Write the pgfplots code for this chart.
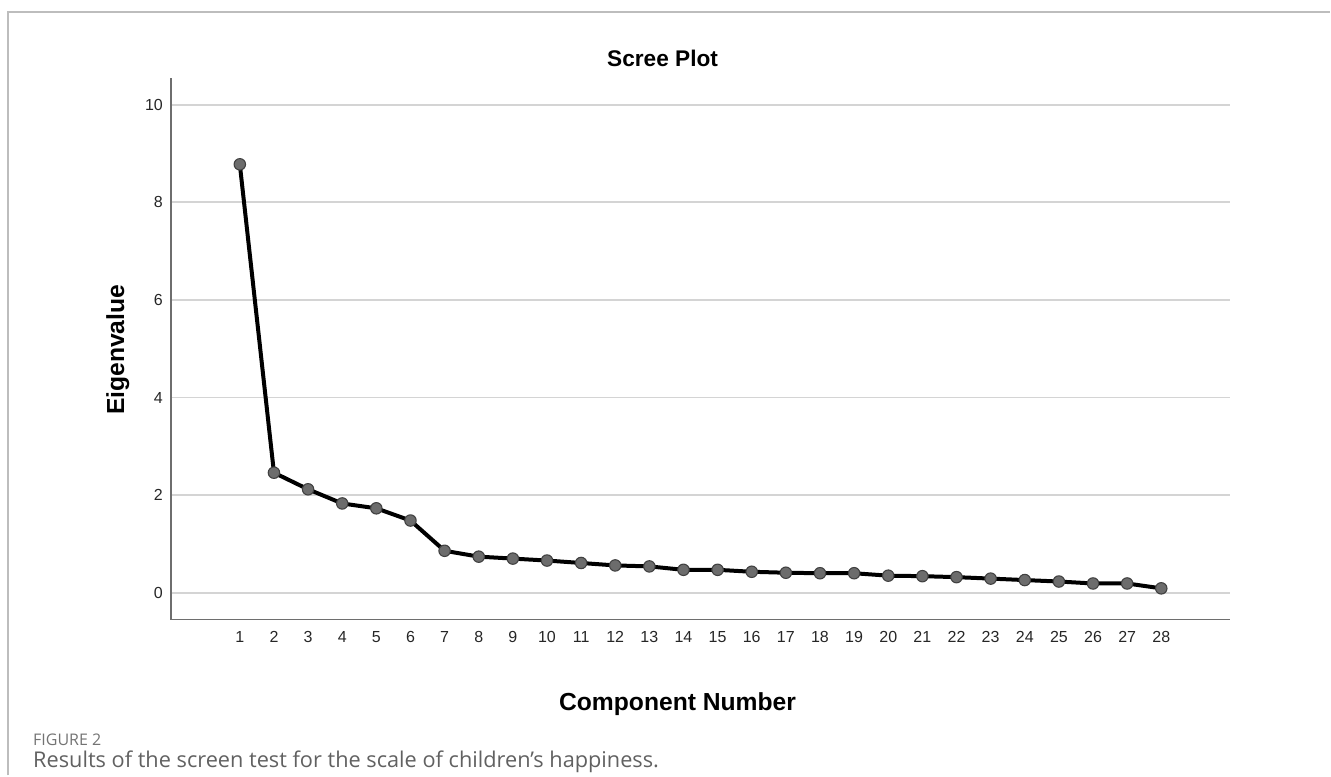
\documentclass[border=0pt]{standalone}
\usepackage{pgfplots}
\pgfplotsset{compat=1.18}
\usepackage{fontspec}
\setmainfont{Liberation Sans}
\newfontfamily\capfont{Open Sans}
\definecolor{gridc}{HTML}{D4D4D4}
\definecolor{axc}{HTML}{6E6E6E}
\definecolor{markc}{HTML}{6C6C6C}
\definecolor{framec}{HTML}{BDBDBD}
\begin{document}
\begin{tikzpicture}[x=0.75pt,y=0.75pt]
\path (0,0) rectangle (1331,776);
\draw[framec, line width=1.3pt] (8,0) -- (8,764) -- (1331,764);
\begin{axis}[
  at={(128.25pt,117pt)}, anchor=south west,
  scale only axis, width=795pt, height=406.5pt,
  xmin=-1.02, xmax=30.02, ymin=-0.55, ymax=10.55,
  axis x line*=bottom, axis y line*=left,
  axis line style={axc, line width=1.3pt, -},
  xtick={1,...,28}, ytick={0,2,4,6,8,10},
  major tick length=0pt,
  ymajorgrids, grid style={gridc, line width=1.4pt},
  /pgf/number format/assume math mode=true,
  tick label style={font=\fontsize{12}{14}\selectfont, text=black!85},
  yticklabel style={xshift=-2.5pt},
  xticklabel style={yshift=-5pt, text height=9pt, text depth=0pt},
  clip=false,
]
\addplot[black, line width=3pt, mark=*, mark size=4.3pt,
  mark options={fill=markc, draw=black!75, line width=0.8pt}]
  table {
x y
1 8.78
2 2.46
3 2.12
4 1.83
5 1.73
6 1.48
7 0.86
8 0.74
9 0.70
10 0.66
11 0.61
12 0.56
13 0.54
14 0.47
15 0.47
16 0.43
17 0.41
18 0.40
19 0.40
20 0.35
21 0.34
22 0.32
23 0.29
24 0.26
25 0.23
26 0.19
27 0.19
28 0.09
};
\end{axis}
\node[font=\fontsize{17}{20}\bfseries\selectfont] at (663,718) {Scree Plot};
\node[font=\fontsize{18.5}{22}\bfseries\selectfont, rotate=90] at (118,426) {Eigenvalue};
\node[font=\fontsize{18.5}{22}\bfseries\selectfont] at (678,71) {Component Number};
\node[anchor=west, inner sep=0pt, font=\capfont\fontsize{12}{14}\selectfont, text=black!55] at (33,36) {FIGURE 2};
\node[anchor=west, inner sep=0pt, font=\capfont\fontsize{16.3}{19}\selectfont, text=black!62] at (33,14) {Results of the screen test for the scale of children’s happiness.};
\end{tikzpicture}
\end{document}
